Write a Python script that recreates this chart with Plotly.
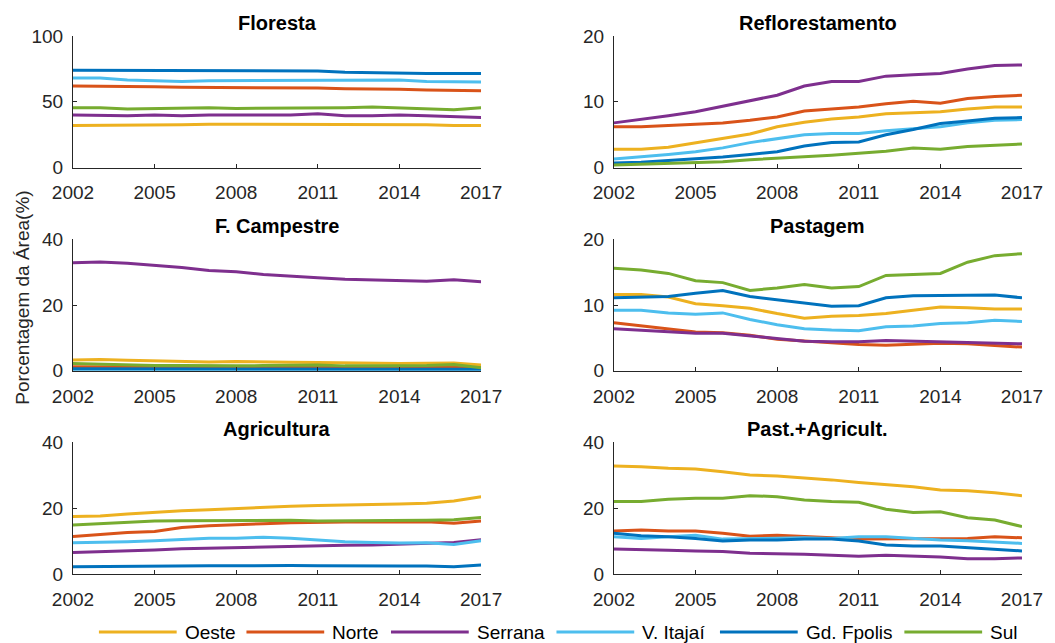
import plotly.graph_objects as go
from plotly.subplots import make_subplots

# Years and regions
years = list(range(2002, 2018))
regions = ["Oeste", "Norte", "Serrana", "V. Itajaí", "Gd. Fpolis", "Sul"]
colors = ["#EDB120", "#D95319", "#7E2F8E", "#4DBEEE", "#0072BD", "#77AC30"]
xticks = [2002, 2005, 2008, 2011, 2014, 2017]

# Floresta (%)
floresta_oeste = [32, 32, 32.5, 32.5, 32.5, 33, 33, 32.5, 32.5, 32.5, 32.5, 32.5, 32.5, 32.5, 32, 32]
floresta_norte = [62, 62, 62, 61.5, 61, 61, 61, 60.5, 60.5, 60.5, 60, 60, 59.5, 59, 58.5, 58.5]
floresta_serrana = [40, 39.5, 39.5, 40, 39.5, 40, 40, 39.5, 40, 41, 39.5, 39.5, 40, 39.5, 38.5, 38]
floresta_itajai = [68, 68, 66.5, 66, 65.5, 66, 66, 66, 66, 66.5, 66, 66.5, 66.5, 65.5, 65, 65]
floresta_fpolis = [74, 74, 74, 73.5, 73.5, 74, 74, 73.5, 73.5, 73.5, 72.5, 72, 71.5, 71.5, 71.5, 71.5]
floresta_sul = [45.5, 45.5, 44.5, 45, 45.5, 45.5, 45, 45, 45, 45, 45.5, 46, 45.5, 45, 44, 45.5]

# Reflorestamento (%)
refl_oeste = [2.8, 2.8, 3.1, 3.8, 4.4, 5.1, 6.2, 6.9, 7.4, 7.7, 8.2, 8.4, 8.5, 8.9, 9.2, 9.2]
refl_norte = [6.2, 6.2, 6.4, 6.6, 6.8, 7.2, 7.7, 8.6, 8.9, 9.2, 9.7, 10.1, 9.8, 10.5, 10.8, 11.0]
refl_serrana = [6.8, 7.3, 7.9, 8.5, 9.3, 10.1, 11.0, 12.4, 13.1, 13.1, 13.9, 14.1, 14.3, 15.0, 15.5, 15.6]
refl_itajai = [1.3, 1.6, 2.0, 2.4, 3.0, 3.8, 4.4, 5.0, 5.2, 5.2, 5.6, 5.9, 6.2, 6.8, 7.2, 7.3]
refl_fpolis = [0.7, 0.8, 1.1, 1.3, 1.6, 2.0, 2.4, 3.3, 3.8, 3.9, 5.0, 5.8, 6.7, 7.1, 7.5, 7.6]
refl_sul = [0.4, 0.5, 0.6, 0.8, 0.9, 1.2, 1.4, 1.7, 1.9, 2.2, 2.5, 3.0, 2.8, 3.2, 3.4, 3.6]

# F. Campestre (%)
camp_oeste = [3.3, 3.4, 3.2, 3.0, 2.8, 2.7, 2.8, 2.6, 2.6, 2.5, 2.4, 2.2, 2.2, 2.3, 2.4, 1.8]
camp_norte = [1.2, 1.2, 1.1, 1.1, 1.1, 1.0, 1.0, 1.0, 1.0, 1.0, 1.0, 1.0, 1.0, 1.0, 1.0, 0.9]
camp_serrana = [32.8, 33.1, 32.7, 32.1, 31.4, 30.5, 30.1, 29.3, 28.7, 28.3, 27.8, 27.6, 27.3, 27.2, 27.7, 27.1]
camp_itajai = [0.1, 0.1, 0.1, 0.1, 0.1, 0.1, 0.1, 0.1, 0.1, 0.1, 0.1, 0.1, 0.1, 0.1, 0.1, 0.1]
camp_fpolis = [0.6, 0.6, 0.6, 0.6, 0.6, 0.6, 0.6, 0.6, 0.6, 0.6, 0.6, 0.6, 0.6, 0.6, 0.6, 0.5]
camp_sul = [2.2, 2.0, 1.7, 1.6, 1.6, 1.5, 1.5, 1.6, 1.7, 1.8, 1.5, 1.4, 1.5, 1.6, 1.9, 0.9]

# Pastagem (%)
past_oeste = [11.6, 11.6, 11.2, 10.2, 9.9, 9.5, 8.7, 8.0, 8.3, 8.4, 8.7, 9.2, 9.7, 9.6, 9.4, 9.4]
past_norte = [7.3, 6.8, 6.4, 5.9, 5.8, 5.4, 4.8, 4.5, 4.3, 4.0, 3.9, 4.1, 4.2, 4.1, 3.9, 3.6]
past_serrana = [6.4, 6.2, 6.0, 5.7, 5.7, 5.3, 4.8, 4.5, 4.4, 4.4, 4.6, 4.5, 4.4, 4.4, 4.3, 4.1]
past_itajai = [9.2, 9.2, 8.8, 8.6, 8.8, 7.8, 7.0, 6.4, 6.2, 6.1, 6.7, 6.8, 7.2, 7.3, 7.7, 7.5]
past_fpolis = [11.1, 11.2, 11.3, 11.8, 12.2, 11.3, 10.8, 10.4, 9.8, 9.9, 11.1, 11.4, 11.4, 11.4, 11.5, 11.1]
past_sul = [15.6, 15.3, 14.8, 13.7, 13.4, 12.2, 12.6, 13.1, 12.6, 12.8, 14.5, 14.7, 14.8, 16.5, 17.5, 17.8]

# Agricultura (%)
agri_oeste = [17.5, 17.6, 18.2, 18.8, 19.2, 19.5, 19.9, 20.3, 20.6, 20.8, 20.9, 21.1, 21.3, 21.5, 22.2, 23.5]
agri_norte = [11.4, 12.1, 12.6, 12.9, 14.1, 14.7, 14.9, 15.3, 15.6, 15.8, 15.8, 15.8, 15.8, 15.9, 15.4, 16.1]
agri_serrana = [6.5, 6.7, 7.0, 7.3, 7.7, 7.9, 8.1, 8.3, 8.5, 8.6, 8.7, 8.8, 9.0, 9.3, 9.6, 10.4]
agri_itajai = [9.5, 9.6, 9.8, 10.1, 10.6, 10.9, 10.9, 11.2, 10.9, 10.4, 9.8, 9.6, 9.4, 9.5, 9.0, 10.1]
agri_fpolis = [2.2, 2.3, 2.3, 2.4, 2.4, 2.5, 2.5, 2.6, 2.6, 2.5, 2.4, 2.4, 2.4, 2.4, 2.2, 2.7]
agri_sul = [14.9, 15.3, 15.9, 16.1, 16.2, 16.2, 16.3, 16.4, 16.3, 16.1, 16.1, 16.1, 16.1, 16.3, 16.5, 17.2]

# Past.+Agricult. (%)
pa_oeste = [32.8, 32.6, 32.1, 31.9, 31.1, 30.1, 29.8, 29.3, 28.6, 27.8, 27.2, 26.5, 25.5, 25.3, 24.7, 23.8]
pa_norte = [13.1, 13.4, 13.1, 13.1, 12.4, 11.5, 11.8, 11.5, 11.0, 10.6, 10.6, 10.6, 10.8, 10.8, 11.3, 11.0]
pa_serrana = [7.6, 7.3, 7.2, 7.0, 6.8, 6.3, 6.2, 6.0, 5.7, 5.4, 5.7, 5.5, 5.2, 4.6, 4.6, 4.9]
pa_itajai = [11.3, 10.8, 11.3, 11.8, 10.6, 10.8, 11.0, 11.0, 10.8, 11.3, 11.3, 10.8, 10.3, 10.1, 9.8, 9.3]
pa_fpolis = [12.4, 11.6, 11.3, 10.8, 10.0, 10.3, 10.3, 10.6, 10.6, 10.0, 8.8, 8.5, 8.5, 8.0, 7.3, 7.0]
pa_sul = [22.0, 22.0, 22.7, 23.0, 23.0, 23.8, 23.5, 22.5, 22.0, 21.8, 19.7, 18.7, 18.9, 17.1, 16.4, 14.4]

panels = [
    ("Floresta", [floresta_oeste, floresta_norte, floresta_serrana, floresta_itajai, floresta_fpolis, floresta_sul], 100, 50),
    ("Reflorestamento", [refl_oeste, refl_norte, refl_serrana, refl_itajai, refl_fpolis, refl_sul], 20, 10),
    ("F. Campestre", [camp_oeste, camp_norte, camp_serrana, camp_itajai, camp_fpolis, camp_sul], 40, 20),
    ("Pastagem", [past_oeste, past_norte, past_serrana, past_itajai, past_fpolis, past_sul], 20, 10),
    ("Agricultura", [agri_oeste, agri_norte, agri_serrana, agri_itajai, agri_fpolis, agri_sul], 40, 20),
    ("Past.+Agricult.", [pa_oeste, pa_norte, pa_serrana, pa_itajai, pa_fpolis, pa_sul], 40, 20),
]

FONT = "Liberation Sans, Arial, sans-serif"
AXC = "#262626"

fig = make_subplots(rows=3, cols=2, horizontal_spacing=0.14, vertical_spacing=0.133)

for i, (title, series, ymax, dtick) in enumerate(panels):
    r, c = i // 2 + 1, i % 2 + 1
    for name, col, vals in zip(regions, colors, series):
        fig.add_trace(go.Scatter(
            x=years, y=vals, mode="lines", name=name,
            line=dict(color=col, width=3), showlegend=False,
        ), row=r, col=c)
    fig.update_xaxes(range=[2002, 2017], tickvals=xticks, row=r, col=c)
    fig.update_yaxes(range=[0, ymax], dtick=dtick, row=r, col=c)

fig.update_xaxes(showline=True, linecolor=AXC, linewidth=1, ticks="inside", ticklen=4,
                 tickcolor=AXC, showgrid=False, zeroline=False, ticklabelstandoff=8,
                 tickfont=dict(family=FONT, size=19, color=AXC))
fig.update_yaxes(showline=True, linecolor=AXC, linewidth=1, ticks="inside", ticklen=4,
                 tickcolor=AXC, showgrid=False, zeroline=False, ticklabelstandoff=5,
                 tickfont=dict(family=FONT, size=19, color=AXC))

# Panel titles
for i, (title, _, _, _) in enumerate(panels):
    xa = fig.layout["xaxis" + ("" if i == 0 else str(i + 1))]
    ya = fig.layout["yaxis" + ("" if i == 0 else str(i + 1))]
    fig.add_annotation(text="<b>" + title + "</b>", xref="paper", yref="paper",
                       x=(xa.domain[0] + xa.domain[1]) / 2, y=ya.domain[1],
                       xanchor="center", yanchor="bottom", yshift=0, showarrow=False,
                       font=dict(family=FONT, size=20, color="black"))

# Shared y label
fig.add_annotation(text="Porcentagem da Área(%)", xref="paper", yref="paper",
                   x=-0.054, y=0.513, textangle=-90, showarrow=False,
                   xanchor="center", yanchor="middle",
                   font=dict(family=FONT, size=19, color=AXC))

# Manual legend with long line samples (window pixel positions converted to paper)
L, W = 73, 952
def px(x):
    return (x - L) / W

leg_starts = [99, 247, 392, 558, 722, 907]
leg_y = -0.108
for name, col, x0 in zip(regions, colors, leg_starts):
    fig.add_shape(type="line", xref="paper", yref="paper",
                  x0=px(x0), x1=px(x0 + 78), y0=leg_y, y1=leg_y,
                  line=dict(color=col, width=3))
    fig.add_annotation(text=name, xref="paper", yref="paper", x=px(x0 + 84), y=leg_y,
                       xanchor="left", yanchor="middle", showarrow=False,
                       font=dict(family=FONT, size=19, color="black"))

# page body adds an 8px offset, so the figure is a bit smaller than the window
fig.update_layout(
    width=1047, height=635,
    margin=dict(l=65, r=30, t=28, b=69),
    plot_bgcolor="white", paper_bgcolor="white",
    showlegend=False,
)

fig.write_html("out.html")
